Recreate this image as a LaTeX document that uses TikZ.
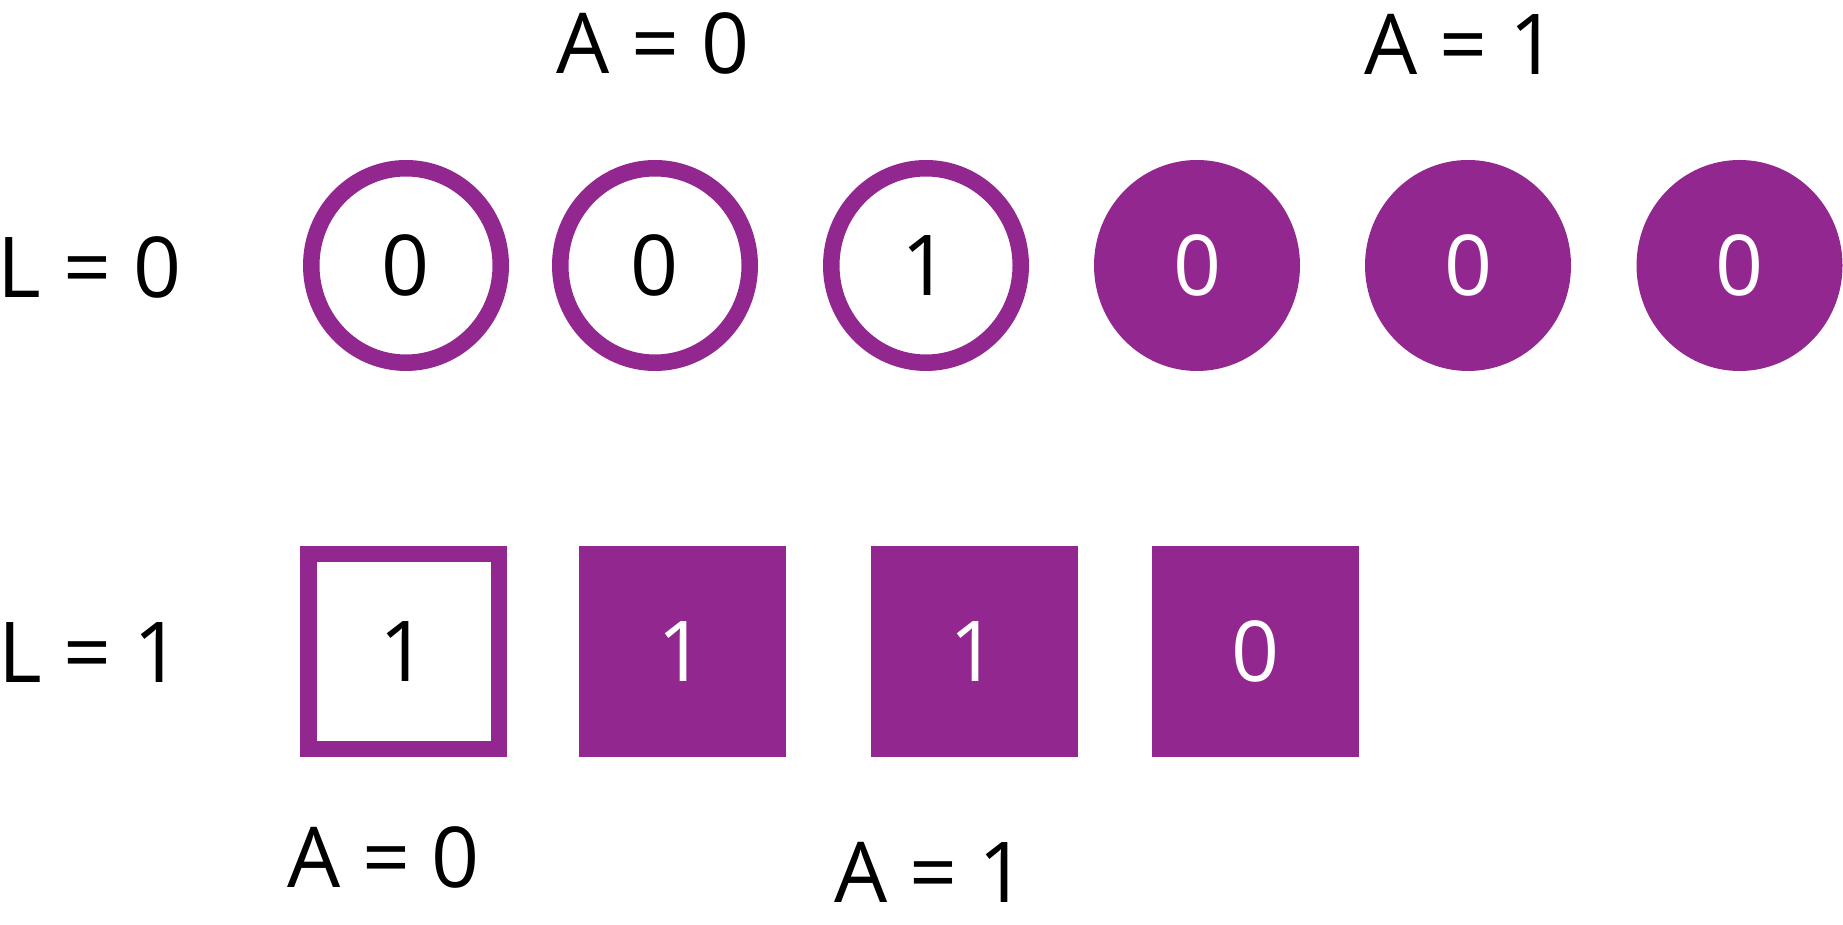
\documentclass[tikz,border=0pt]{standalone}
\usepackage{fontspec}
\setmainfont{Open Sans}
\usetikzlibrary{shapes.geometric}
\definecolor{bitpurple}{HTML}{92278F}

\begin{document}
\begin{tikzpicture}[x=1pt,y=1pt,line cap=round,line join=round,
    every node/.style={font=\fontsize{84}{100}\selectfont,inner sep=0pt,outer sep=0pt},
    bitcirc/.style={ellipse,draw=bitpurple,line width=16.5pt,minimum width=189.5pt,minimum height=194.5pt},
    bitbox/.style={rectangle,draw=bitpurple,line width=16.5pt,line join=miter,minimum width=190.5pt,minimum height=194.5pt},
    bitfill/.style={fill=bitpurple,text=white}]
\useasboundingbox (0,0) rectangle (1843,924);

% L = 0 row
\node[anchor=base] (l0) at (89.5,626) {L = 0};
\node[bitcirc] (c1) at (406,658.5) {0};
\node[bitcirc] (c2) at (655,658.5) {0};
\node[bitcirc] (c3) at (926,658.5) {1};
\node[bitcirc,bitfill] (c4) at (1197,658.5) {0};
\node[bitcirc,bitfill] (c5) at (1468,658.5) {0};
\node[bitcirc,bitfill] (c6) at (1739.5,658.5) {0};
\node[anchor=base] (a0top) at (653,850) {A = 0};
\node[anchor=base] (a1top) at (1461,849) {A = 1};

% L = 1 row
\node[anchor=base] (l1) at (90,242) {L = 1};
\node[bitbox] (b1) at (403.5,272.5) {1};
\node[bitbox,bitfill] (b2) at (682,272.5) {1};
\node[bitbox,bitfill] (b3) at (974,272.5) {1};
\node[bitbox,bitfill] (b4) at (1255.5,272.5) {0};
\node[anchor=base] (a0bot) at (383.5,37) {A = 0};
\node[anchor=base] (a1bot) at (930.5,22) {A = 1};
\end{tikzpicture}
\end{document}
